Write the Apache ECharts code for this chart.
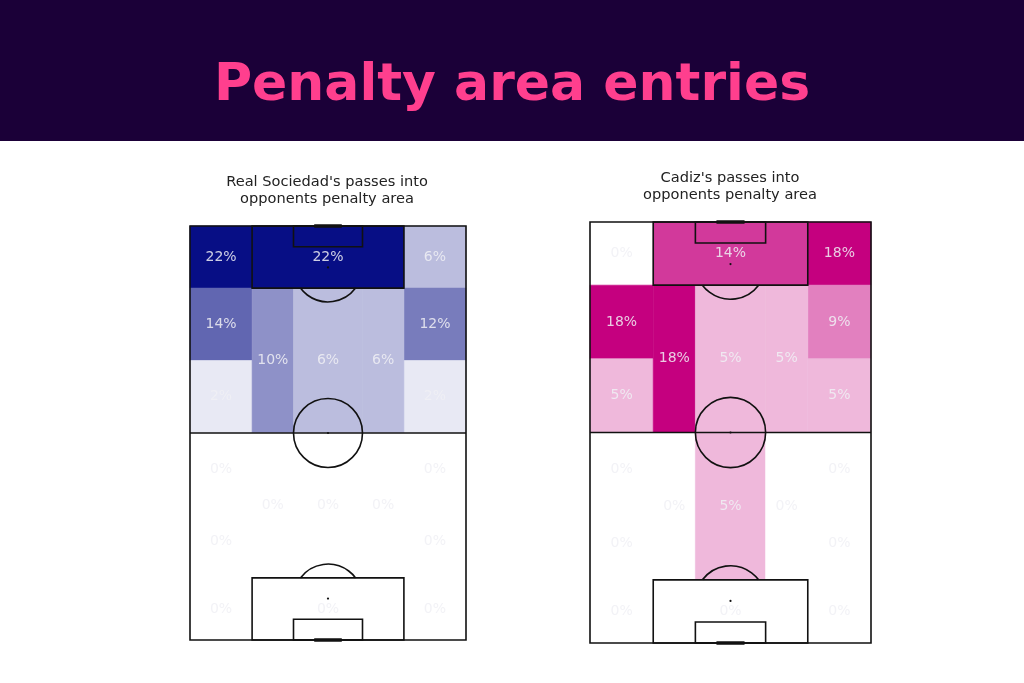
<!DOCTYPE html>
<html>
<head>
<meta charset="utf-8">
<script src="https://cdn.jsdelivr.net/npm/echarts@6/dist/echarts.min.js"></script>
<style>html,body{margin:0;padding:0;background:#fff}#chart{width:1024px;height:683px}</style>
</head>
<body>
<div id="chart"></div>
<script>
// Bin structure (StatsBomb pitch 80 wide x 120 long, 0 = attacked goal line at top)
const laneEdges = [0, 18, 30, 50, 62, 80];          // wide L | half-space L | centre | half-space R | wide R
const wideRowEdges = [0, 18, 39, 60, 81, 102, 120];
const innerRowEdges = [18, 60, 102];
const boxRows = [[0, 18], [102, 120]];

// Real Sociedad (% of passes into penalty area)
const rsWideLeft = [22, 14, 2, 0, 0, 0];
const rsWideRight = [6, 12, 2, 0, 0, 0];
const rsHalfLeft = [10, 0];
const rsCentre = [6, 0];
const rsHalfRight = [6, 0];
const rsBox = [22, 0];

// Cadiz
const cadWideLeft = [0, 18, 5, 0, 0, 0];
const cadWideRight = [18, 9, 5, 0, 0, 0];
const cadHalfLeft = [18, 0];
const cadCentre = [5, 5];
const cadHalfRight = [5, 0];
const cadBox = [14, 0];

const titleText = 'Penalty area entries';
const rsTitle = "Real Sociedad's passes into\nopponents penalty area";
const cadTitle = "Cadiz's passes into\nopponents penalty area";

function buildCells(wl, wr, hl, c, hr, box) {
  const cells = [];
  for (let i = 0; i < 6; i++) {
    cells.push([laneEdges[0], laneEdges[1], wideRowEdges[i], wideRowEdges[i + 1], wl[i]]);
    cells.push([laneEdges[4], laneEdges[5], wideRowEdges[i], wideRowEdges[i + 1], wr[i]]);
  }
  for (let i = 0; i < 2; i++) {
    cells.push([laneEdges[1], laneEdges[2], innerRowEdges[i], innerRowEdges[i + 1], hl[i]]);
    cells.push([laneEdges[2], laneEdges[3], innerRowEdges[i], innerRowEdges[i + 1], c[i]]);
    cells.push([laneEdges[3], laneEdges[4], innerRowEdges[i], innerRowEdges[i + 1], hr[i]]);
    cells.push([laneEdges[1], laneEdges[4], boxRows[i][0], boxRows[i][1], box[i]]);
  }
  return cells;
}

const rsCells = buildCells(rsWideLeft, rsWideRight, rsHalfLeft, rsCentre, rsHalfRight, rsBox);
const cadCells = buildCells(cadWideLeft, cadWideRight, cadHalfLeft, cadCentre, cadHalfRight, cadBox);

function renderCell(params, api) {
  const p0 = api.coord([api.value(0), api.value(2)]);
  const p1 = api.coord([api.value(1), api.value(3)]);
  const col = api.visual('color');
  return {
    type: 'rect',
    shape: {
      x: Math.min(p0[0], p1[0]), y: Math.min(p0[1], p1[1]),
      width: Math.abs(p1[0] - p0[0]), height: Math.abs(p1[1] - p0[1])
    },
    style: { fill: col, stroke: col, lineWidth: 0.6 }
  };
}

function renderLabel(params, api) {
  const p = api.coord([(api.value(0) + api.value(1)) / 2, (api.value(2) + api.value(3)) / 2]);
  return {
    type: 'text',
    x: p[0], y: p[1],
    style: {
      text: api.value(4) + '%',
      fill: 'rgba(240,240,244,0.85)',
      font: '14px "DejaVu Sans"',
      align: 'center', verticalAlign: 'middle'
    }
  };
}

function renderPitch(params, api) {
  const c = (x, y) => api.coord([x, y]);
  const stroke = '#111';
  const lw = 1.6;
  const children = [];
  const line = (x1, y1, x2, y2, w) => {
    const a = c(x1, y1), b = c(x2, y2);
    children.push({ type: 'line', shape: { x1: a[0], y1: a[1], x2: b[0], y2: b[1] }, style: { stroke: stroke, lineWidth: w || lw, lineCap: 'butt' } });
  };
  const box = (x0, y0, x1, y1) => {
    const a = c(x0, y0), b = c(x1, y1);
    children.push({ type: 'rect', shape: { x: Math.min(a[0], b[0]), y: Math.min(a[1], b[1]), width: Math.abs(b[0] - a[0]), height: Math.abs(b[1] - a[1]) }, style: { stroke: stroke, lineWidth: lw, fill: 'none' } });
  };
  const scale = Math.abs(c(10, 0)[0] - c(0, 0)[0]) / 10;
  box(0, 0, 80, 120);
  line(0, 60, 80, 60);
  const cc = c(40, 60);
  children.push({ type: 'circle', shape: { cx: cc[0], cy: cc[1], r: 10 * scale }, style: { stroke: stroke, lineWidth: lw, fill: 'none' } });
  children.push({ type: 'circle', shape: { cx: cc[0], cy: cc[1], r: 1.1 }, style: { fill: stroke } });
  box(18, 0, 62, 18);
  box(18, 102, 62, 120);
  box(30, 0, 50, 6);
  box(30, 114, 50, 120);
  const s1 = c(40, 12), s2 = c(40, 108);
  children.push({ type: 'circle', shape: { cx: s1[0], cy: s1[1], r: 1.1 }, style: { fill: stroke } });
  children.push({ type: 'circle', shape: { cx: s2[0], cy: s2[1], r: 1.1 }, style: { fill: stroke } });
  const a = Math.acos(0.6);
  children.push({ type: 'arc', shape: { cx: s1[0], cy: s1[1], r: 10 * scale, startAngle: Math.PI / 2 - a, endAngle: Math.PI / 2 + a, clockwise: true }, style: { stroke: stroke, lineWidth: lw, fill: 'none' } });
  children.push({ type: 'arc', shape: { cx: s2[0], cy: s2[1], r: 10 * scale, startAngle: 3 * Math.PI / 2 - a, endAngle: 3 * Math.PI / 2 + a, clockwise: true }, style: { stroke: stroke, lineWidth: lw, fill: 'none' } });
  line(36, 0, 44, 0, 3.5);
  line(36, 120, 44, 120, 3.5);
  return { type: 'group', children: children };
}

const chart = echarts.init(document.getElementById('chart'), null, { renderer: 'canvas' });
const axisX = i => ({ type: 'value', gridIndex: i, min: 0, max: 80, show: false });
const axisY = i => ({ type: 'value', gridIndex: i, min: 0, max: 120, inverse: true, show: false });

chart.setOption({
  animation: false,
  backgroundColor: '#ffffff',
  grid: [
    { left: 190, top: 226, width: 276, height: 414 },
    { left: 590, top: 222, width: 281, height: 421 }
  ],
  xAxis: [axisX(0), axisX(1)],
  yAxis: [axisY(0), axisY(1)],
  visualMap: [
    { type: 'continuous', show: false, seriesIndex: 0, dimension: 4, min: 0, max: 22, inRange: { color: ['#ffffff', '#070e85'] } },
    { type: 'continuous', show: false, seriesIndex: 1, dimension: 4, min: 0, max: 18, inRange: { color: ['#ffffff', '#c5007f'] } }
  ],
  graphic: [
    { type: 'rect', shape: { x: 0, y: 0, width: 1024, height: 141 }, style: { fill: '#1b0038' }, z: -10 },
    { type: 'text', x: 512, y: 86, style: { text: titleText, font: 'bold 52px "DejaVu Sans"', fill: '#ff3f8e', align: 'center', verticalAlign: 'middle' } },
    { type: 'text', x: 327, y: 191, style: { text: rsTitle, font: '14.6px "DejaVu Sans"', fill: '#222', align: 'center', verticalAlign: 'middle', lineHeight: 17 } },
    { type: 'text', x: 730, y: 187, style: { text: cadTitle, font: '14.6px "DejaVu Sans"', fill: '#222', align: 'center', verticalAlign: 'middle', lineHeight: 17 } }
  ],
  series: [
    { type: 'custom', xAxisIndex: 0, yAxisIndex: 0, renderItem: renderCell, data: rsCells, encode: { x: [0, 1], y: [2, 3] }, silent: true, z: 1, clip: false },
    { type: 'custom', xAxisIndex: 1, yAxisIndex: 1, renderItem: renderCell, data: cadCells, encode: { x: [0, 1], y: [2, 3] }, silent: true, z: 1, clip: false },
    { type: 'custom', xAxisIndex: 0, yAxisIndex: 0, renderItem: renderPitch, data: [[40, 60]], silent: true, z: 2, clip: false },
    { type: 'custom', xAxisIndex: 1, yAxisIndex: 1, renderItem: renderPitch, data: [[40, 60]], silent: true, z: 2, clip: false },
    { type: 'custom', xAxisIndex: 0, yAxisIndex: 0, renderItem: renderLabel, data: rsCells, encode: { x: [0, 1], y: [2, 3] }, silent: true, z: 3, clip: false },
    { type: 'custom', xAxisIndex: 1, yAxisIndex: 1, renderItem: renderLabel, data: cadCells, encode: { x: [0, 1], y: [2, 3] }, silent: true, z: 3, clip: false }
  ]
});
</script>
</body>
</html>
